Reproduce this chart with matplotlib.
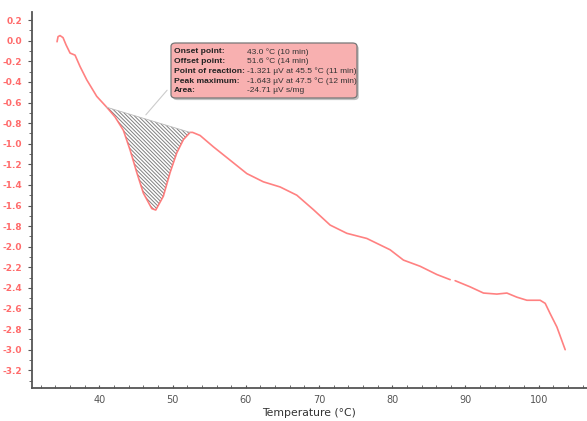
import numpy as np
import matplotlib
matplotlib.use("Agg")
import matplotlib.pyplot as plt
from matplotlib.ticker import MultipleLocator, FormatStrFormatter

plt.rcParams['axes.unicode_minus'] = False
plt.rcParams['hatch.linewidth'] = 0.7

# DSC curve (temperature in degC, signal in uV/mg)
temp_a = [34.22, 34.36, 34.63, 35.04, 35.45, 36.0, 36.68, 37.36, 38.28, 39.64,
          41.01, 42.14, 43.28, 44.19, 45.11, 46.01, 47.16, 47.70, 48.74, 49.66,
          50.57, 51.48, 52.39, 52.73, 53.76, 55.57, 57.86, 60.14, 62.40, 64.69,
          66.97, 69.23, 71.52, 73.80, 76.53, 79.71, 81.53, 83.81, 86.09, 87.91]
sig_a = [-0.01, 0.04, 0.05, 0.03, -0.04, -0.12, -0.14, -0.25, -0.38, -0.54,
         -0.646, -0.74, -0.87, -1.06, -1.28, -1.48, -1.63, -1.644, -1.51, -1.28,
         -1.09, -0.96, -0.89, -0.89, -0.92, -1.03, -1.16, -1.29, -1.37, -1.42,
         -1.50, -1.64, -1.79, -1.87, -1.92, -2.03, -2.13, -2.19, -2.27, -2.32]
temp_b = [88.59, 90.64, 92.46, 94.29, 95.66, 97.02, 98.39, 100.2, 100.89,
          101.57, 102.49, 103.62]
sig_b = [-2.33, -2.39, -2.45, -2.46, -2.45, -2.49, -2.52, -2.52, -2.55,
         -2.65, -2.78, -3.00]

# peak integration limits
onset_t, onset_v = 41.01, -0.646
offset_t, offset_v = 52.39, -0.89

info_keys = ["Onset point:", "Offset point:", "Point of reaction:",
             "Peak maximum:", "Area:"]
info_vals = ["43.0 \u00b0C (10 min)", "51.6 \u00b0C (14 min)",
             "-1.321 \u00b5V at 45.5 \u00b0C (11 min)",
             "-1.643 \u00b5V at 47.5 \u00b0C (12 min)", "-24.71 \u00b5V s/mg"]

red = "#ff6b6b"
axis_col = "#555555"

fig = plt.figure(figsize=(5.87, 4.21), dpi=100)
ax = fig.add_axes([32 / 587, 33 / 421, 1 - 32 / 587, 376 / 421])

ax.plot(temp_a, sig_a, color=red, lw=1.2, alpha=0.85, solid_capstyle='round')
ax.plot(temp_b, sig_b, color=red, lw=1.2, alpha=0.85, solid_capstyle='round')

# hatched peak area between baseline and curve
ta = np.array(temp_a)
sa = np.array(sig_a)
mask = (ta >= onset_t) & (ta <= offset_t)
pt = ta[mask]
ps = sa[mask]
base = np.interp(pt, [onset_t, offset_t], [onset_v, offset_v])
ax.fill_between(pt, ps, base, facecolor='white', edgecolor='#808080',
                hatch='\\' * 9, linewidth=0)
ax.plot([onset_t, offset_t], [onset_v, offset_v], color='#bbbbbb', lw=0.6)

ax.set_xlim(30.8, 106.6)
ax.set_ylim(-3.372, 0.279)

for s in ['top', 'right']:
    ax.spines[s].set_visible(False)
for s in ['left', 'bottom']:
    ax.spines[s].set_color(axis_col)
    ax.spines[s].set_linewidth(1.3)

ax.xaxis.set_major_locator(MultipleLocator(10))
ax.xaxis.set_minor_locator(MultipleLocator(2))
ax.yaxis.set_major_locator(MultipleLocator(0.2))
ax.yaxis.set_minor_locator(MultipleLocator(0.1))
ax.yaxis.set_major_formatter(FormatStrFormatter('%.1f'))

ax.tick_params(axis='x', which='both', direction='in', length=2.5,
               color=axis_col, labelsize=7, labelcolor='#555555', pad=5)
ax.tick_params(axis='y', which='major', direction='out', length=3,
               color=axis_col, labelsize=6.5, labelcolor=red, pad=4)
ax.tick_params(axis='y', which='minor', direction='out', length=2,
               color=axis_col)
for lab in ax.get_yticklabels():
    lab.set_fontweight('bold')

ax.set_xlabel("Temperature (\u00b0C)", fontsize=7.8, color='#333333',
              labelpad=2)

# leader line from peak area to info box
ax.annotate("", xy=(46.1, -0.74), xytext=(49.5, -0.46),
            arrowprops=dict(arrowstyle='-', color='#cccccc', lw=0.8))

# info box
bx0, by0 = 171 / 587, 1 - 43 / 421
bw, bh = 186 / 587, 55 / 421
shadow = matplotlib.patches.FancyBboxPatch(
    (bx0 + 0.003, by0 - bh - 0.005), bw, bh,
    boxstyle="round,pad=0,rounding_size=0.008", transform=fig.transFigure,
    facecolor='#9a9a9a', edgecolor='none', alpha=0.6, zorder=4)
box = matplotlib.patches.FancyBboxPatch(
    (bx0, by0 - bh), bw, bh,
    boxstyle="round,pad=0,rounding_size=0.008", transform=fig.transFigure,
    facecolor='#f8b0b0', edgecolor='#777777', lw=0.9, zorder=5)
fig.patches.extend([shadow, box])

for i, (k, v) in enumerate(zip(info_keys, info_vals)):
    yy = 1 - (51.7 + i * 9.8) / 421
    fig.text(174 / 587, yy, k, fontsize=6.1, fontweight='bold',
             family='Liberation Sans', color='#222222', va='center', zorder=6)
    fig.text(247 / 587, yy, v, fontsize=6.0, family='Liberation Sans',
             color='#333333', va='center', zorder=6)

fig.savefig("out.png", dpi=100)
